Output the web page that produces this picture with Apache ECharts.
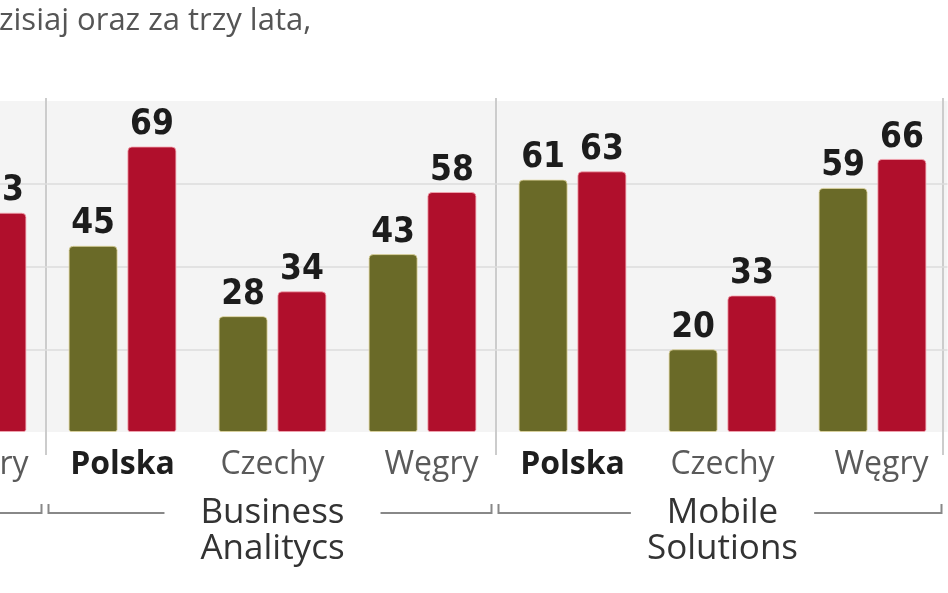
<!DOCTYPE html>
<html>
<head>
<meta charset="utf-8">
<script src="https://cdn.jsdelivr.net/npm/echarts@6/dist/echarts.min.js"></script>
<style>
html,body{margin:0;padding:0;background:#fff;}
#chart{width:948px;height:593px;}
</style>
</head>
<body>
<div id="chart"></div>
<script>
// ---- data ----
const categories = ['Polska', 'Czechy', 'Węgry'];
const groupNames = ['', 'Business\nAnalitycs', 'Mobile\nSolutions'];
const prevGroupNow = [null, null, null];
const prevGroupLater = [null, null, 53];
const businessNow = [45, 28, 43];
const businessLater = [69, 34, 58];
const mobileNow = [61, 20, 59];
const mobileLater = [63, 33, 66];
const titleText = 'zisiaj oraz za trzy lata,';
const yTicks = [0, 20, 40, 60, 80];

const nowSets = [prevGroupNow, businessNow, mobileNow];
const laterSets = [prevGroupLater, businessLater, mobileLater];

// ---- layout ----
const PANEL_W = 450;
const PANEL0_LEFT = -402.5;
const GRID_TOP = 101;
const GRID_H = 331;
const GREEN = '#6a6a28';
const RED = '#b00f2c';
const LABEL_FONT = "'DejaVu Sans Condensed', 'Liberation Sans Narrow', 'DejaVu Sans', sans-serif";
const TEXT_FONT = "'Open Sans', sans-serif";

const chart = echarts.init(document.getElementById('chart'));

const grids = [], xAxes = [], yAxes = [], series = [];
nowSets.forEach((nowArr, i) => {
  const left = PANEL0_LEFT + i * PANEL_W;
  grids.push({
    left: left, top: GRID_TOP, width: PANEL_W, height: GRID_H,
    show: true, backgroundColor: '#f4f4f4', borderWidth: 0,
    containLabel: false, outerBoundsMode: 'none'
  });
  xAxes.push({
    type: 'category', gridIndex: i, data: categories,
    axisLine: {show: false}, axisTick: {show: false},
    axisLabel: {
      interval: 0, margin: 17, hideOverlap: false,
      formatter: (v) => v === 'Polska' ? '{b|' + v + '}' : (v === 'Węgry' ? '{w|' + v + '}' : '{n|' + v + '}'),
      rich: {
        b: {fontFamily: TEXT_FONT, fontWeight: 'bold', fontSize: 32, color: '#1e1e1e'},
        n: {fontFamily: TEXT_FONT, fontSize: 32, color: '#5a5a5a'},
        w: {fontFamily: TEXT_FONT, fontSize: 32, color: '#5a5a5a', padding: [0, 0, 0, 18]}
      }
    }
  });
  yAxes.push({
    type: 'value', gridIndex: i, min: yTicks[0], max: yTicks[yTicks.length - 1], interval: yTicks[1] - yTicks[0],
    axisLabel: {show: false}, axisLine: {show: false}, axisTick: {show: false},
    splitLine: {show: true, showMinLine: false, showMaxLine: false, lineStyle: {color: '#dddddd', width: 1.5}}
  });
  const labelCfg = {
    show: true, position: 'top', distance: 4,
    fontFamily: LABEL_FONT, fontWeight: 'bold', fontSize: 35, color: '#1c1c1c'
  };
  series.push({
    type: 'bar', name: 'dzisiaj', xAxisIndex: i, yAxisIndex: i, data: nowArr,
    barWidth: 49, barGap: '20%',
    itemStyle: {color: GREEN, borderRadius: [4, 4, 2, 2], borderColor: 'rgba(225,215,160,0.8)', borderWidth: 1},
    label: labelCfg
  });
  series.push({
    type: 'bar', name: 'za trzy lata', xAxisIndex: i, yAxisIndex: i, data: laterSets[i],
    barWidth: 49, barGap: '20%',
    itemStyle: {color: RED, borderRadius: [4, 4, 2, 2], borderColor: 'rgba(245,170,180,0.8)', borderWidth: 1},
    label: labelCfg
  });
});

// ---- decorations ----
const graphic = [];
graphic.push({
  type: 'text', left: -1, top: 6,
  style: {text: titleText, fontFamily: TEXT_FONT, fontSize: 31, fill: '#555'}
});
// separators between panels
for (let k = 1; k <= 3; k++) {
  const x = PANEL0_LEFT + k * PANEL_W - 1.5 - (k === 3 ? 3 : 0);
  graphic.push({
    type: 'line', shape: {x1: x, y1: 98, x2: x, y2: 455},
    style: {stroke: '#cccccc', lineWidth: 2}
  });
}
const canvasCtx = document.createElement('canvas').getContext('2d');
const GROUP_FONT_SIZE = 35;
canvasCtx.font = GROUP_FONT_SIZE + 'px ' + TEXT_FONT;
const BR_Y = 513;
groupNames.forEach((name, i) => {
  const left = PANEL0_LEFT + i * PANEL_W;
  const right = left + PANEL_W;
  const cx = left + PANEL_W / 2;
  let half = 0;
  if (name) {
    const first = name.split('\n')[0];
    half = canvasCtx.measureText(first).width / 2 + 36;
    graphic.push({
      type: 'text', x: cx, y: 495,
      style: {text: name, fontFamily: TEXT_FONT, fontSize: GROUP_FONT_SIZE, lineHeight: 36,
        fill: '#333', align: 'center', verticalAlign: 'top'}
    });
  }
  const lx = left + 1, rx = right - 6;
  const brStyle = {stroke: '#888', lineWidth: 2, fill: null};
  if (half > 0) {
    graphic.push({type: 'polyline', shape: {points: [[lx, BR_Y - 9], [lx, BR_Y], [cx - half, BR_Y]]}, style: brStyle});
    graphic.push({type: 'polyline', shape: {points: [[cx + half, BR_Y], [rx, BR_Y], [rx, BR_Y - 9]]}, style: brStyle});
  } else {
    graphic.push({type: 'polyline', shape: {points: [[lx, BR_Y - 9], [lx, BR_Y], [rx, BR_Y], [rx, BR_Y - 9]]}, style: brStyle});
  }
});

chart.setOption({
  animation: false,
  backgroundColor: '#ffffff',
  grid: grids,
  xAxis: xAxes,
  yAxis: yAxes,
  series: series,
  graphic: graphic
});
</script>
</body>
</html>
